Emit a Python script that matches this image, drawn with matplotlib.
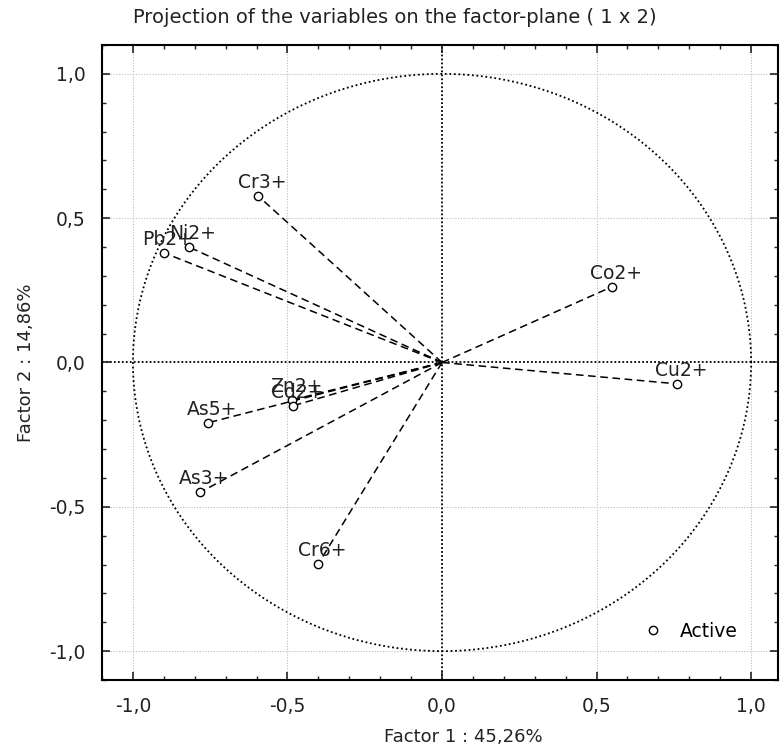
import numpy as np
import matplotlib
matplotlib.use('Agg')
import matplotlib.pyplot as plt
from matplotlib.ticker import MultipleLocator

plt.rcParams['font.family'] = ['DejaVu Sans']

# variable coordinates on factor 1 / factor 2
names = ['Cr3+', 'Ni2+', 'Pb2+', 'Co2+', 'Cu2+', 'Zn2+', 'Cd2+', 'As5+', 'As3+', 'Cr6+']
f1 = [-0.595, -0.819, -0.90, 0.549, 0.76, -0.485, -0.482, -0.757, -0.783, -0.40]
f2 = [0.577, 0.40, 0.38, 0.262, -0.074, -0.13, -0.15, -0.209, -0.45, -0.697]

ticks = [-1.0, -0.5, 0.0, 0.5, 1.0]


def comma(v, pos=None):
    return ('%.1f' % v).replace('.', ',')


fig = plt.figure(figsize=(7.81, 7.47), dpi=100)
ax = fig.add_axes([0.1306, 0.0897, 0.8656, 0.8501])

# unit circle
t = np.linspace(0, 2 * np.pi, 400)
ax.plot(np.cos(t), np.sin(t), color='black', lw=1.3, ls=(0, (1, 1.5)))

# grid and zero lines
for v in ticks:
    if v == 0:
        continue
    ax.axvline(v, color='#bbbbbb', lw=0.8, ls=(0, (1, 1.5)), zorder=0)
    ax.axhline(v, color='#bbbbbb', lw=0.8, ls=(0, (1, 1.5)), zorder=0)
ax.axvline(0, color='black', lw=1.3, ls=(0, (1, 1.2)), zorder=1)
ax.axhline(0, color='black', lw=1.3, ls=(0, (1, 1.2)), zorder=1)

# vectors
for x, y in zip(f1, f2):
    ax.plot([0, x], [0, y], color='black', lw=1.1, ls=(0, (5, 3)))
ax.plot(f1, f2, 'o', mfc='white', mec='black', ms=6, mew=1.0, ls='none',
        label='Active', zorder=3)

for n, x, y in zip(names, f1, f2):
    ax.annotate(n, (x, y), xytext=(3, 3), textcoords='offset points',
                ha='center', va='bottom', fontsize=13.5, color='#222222')

ax.set_xlim(-1.1, 1.087)
ax.set_ylim(-1.1, 1.1)
ax.xaxis.set_major_locator(MultipleLocator(0.5))
ax.yaxis.set_major_locator(MultipleLocator(0.5))
ax.xaxis.set_minor_locator(MultipleLocator(0.1))
ax.yaxis.set_minor_locator(MultipleLocator(0.1))
ax.xaxis.set_major_formatter(plt.FuncFormatter(comma))
ax.yaxis.set_major_formatter(plt.FuncFormatter(comma))
ax.tick_params(which='both', direction='in', top=True, right=True,
               labelsize=13.5, colors='#222222')
ax.tick_params(which='major', length=6, width=1.2, pad=12)
ax.tick_params(which='minor', length=3, width=1.0)
for s in ax.spines.values():
    s.set_linewidth(1.5)

ax.set_xlabel('Factor 1 : 45,26%', fontsize=13, color='#222222')
ax.set_ylabel('Factor 2 : 14,86%', fontsize=13, labelpad=10, color='#222222')
ax.xaxis.set_label_coords(0.534, -0.075)

fig.text(0.506, 0.977, 'Projection of the variables on the factor-plane ( 1 x 2)',
         ha='center', va='center', fontsize=14, color='#222222')

ax.legend(loc='lower right', frameon=False, fontsize=13.5, handletextpad=0.4,
          bbox_to_anchor=(0.965, 0.035))

fig.savefig('out.png', dpi=100)
